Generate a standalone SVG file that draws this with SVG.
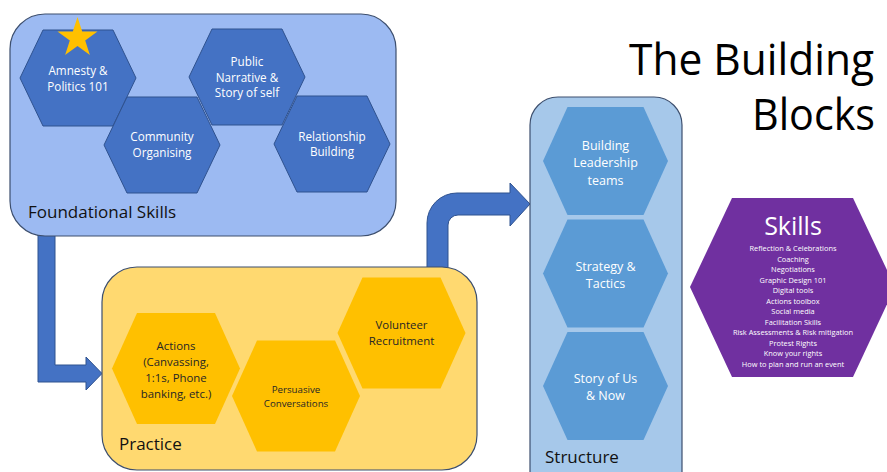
<svg xmlns="http://www.w3.org/2000/svg" xmlns:xlink="http://www.w3.org/1999/xlink" width="887" height="472" viewBox="0 0 887 472">
<style>
  text { font-family: "Open Sans", "Noto Sans", "DejaVu Sans", sans-serif; }
  .box { stroke: #3D4F6E; stroke-width: 1.2; }
  .fbox { fill: #9CBAF2; }
  .pbox { fill: #FFD970; }
  .sbox { fill: #A6C8EA; }
  .hf { fill: #4472C4; stroke: #2F528F; stroke-width: 1; }
  .hp { fill: #FFC000; }
  .hs { fill: #5B9BD5; }
  .arrow { fill: #4472C4; stroke: #2F528F; stroke-width: 1; }
  .wl { fill: #FFFFFF; font-size: 11.7px; text-anchor: middle; }
  .dl { fill: #262626; font-size: 11.4px; text-anchor: middle; }
  .sl { fill: #FFFFFF; font-size: 12.5px; text-anchor: middle; }
  .cap { fill: #111111; font-size: 17px; }
  .sk { fill: #FFFFFF; font-size: 7.4px; text-anchor: middle; }
</style>
<defs>
  <polygon id="hexF" points="-58,0 -35,-48 35,-48 58,0 35,48 -35,48"/>
  <polygon id="hexP" points="-64,0 -39,-55.5 39,-55.5 64,0 39,55.5 -39,55.5"/>
  <polygon id="hexS" points="-62.5,0 -38,-54 38,-54 62.5,0 38,54 -38,54"/>
</defs>
<rect width="887" height="472" fill="#FFFFFF"/>

<g id="connectors">
  <path id="arrow-foundational-practice" class="arrow" d="M38,228 L55,228 L55,365 L86,365 L86,357 L102,373.5 L86,390 L86,382 L38,382 Z"/>
  <path id="arrow-practice-structure" class="arrow" d="M427,280 L427,223 A30,30 0 0 1 457,193 L510,193 L510,183 L530,204 L510,226 L510,215 L458,215 A10,10 0 0 0 448,225 L448,280 Z"/>
</g>

<g id="foundational">
  <rect class="box fbox" x="10" y="14" width="386" height="222" rx="35"/>
  <text class="cap" x="28" y="218">Foundational Skills</text>
</g>
<g id="amnesty">
  <use xlink:href="#hexF" href="#hexF" class="hf" x="78" y="78"/>
  <polygon points="77.5,17 82.2,31.5 97.5,31.5 85.2,40.5 89.9,55 77.5,46 65.1,55 69.8,40.5 57.5,31.5 72.8,31.5" fill="#FFC000"/>
  <text class="wl" x="78" y="75">Amnesty &amp;</text>
  <text class="wl" x="78" y="91">Politics 101</text>
</g>
<g id="community">
  <use xlink:href="#hexF" href="#hexF" class="hf" x="162" y="145"/>
  <text class="wl" x="162" y="141">Community</text>
  <text class="wl" x="162" y="157">Organising</text>
</g>
<g id="public-narrative">
  <use xlink:href="#hexF" href="#hexF" class="hf" x="247" y="77"/>
  <text class="wl" x="247" y="66">Public</text>
  <text class="wl" x="247" y="82">Narrative &amp;</text>
  <text class="wl" x="247" y="97">Story of self</text>
</g>
<g id="relationship">
  <use xlink:href="#hexF" href="#hexF" class="hf" x="332" y="144"/>
  <text class="wl" x="332" y="141">Relationship</text>
  <text class="wl" x="332" y="156">Building</text>
</g>

<g id="practice">
  <rect class="box pbox" x="102" y="267" width="375" height="203" rx="35"/>
  <text class="cap" x="119" y="450">Practice</text>
</g>
<g id="actions">
  <use xlink:href="#hexP" href="#hexP" class="hp" x="176" y="368.5"/>
  <text class="dl" x="176" y="349.5">Actions</text>
  <text class="dl" x="176" y="365.5">(Canvassing,</text>
  <text class="dl" x="176" y="381.5">1:1s, Phone</text>
  <text class="dl" x="176" y="397.5">banking, etc.)</text>
</g>
<g id="persuasive">
  <use xlink:href="#hexP" href="#hexP" class="hp" x="296" y="396"/>
  <text class="dl" style="font-size:9.7px" x="296" y="392.5">Persuasive</text>
  <text class="dl" style="font-size:9.7px" x="296" y="406.5">Conversations</text>
</g>
<g id="volunteer">
  <use xlink:href="#hexP" href="#hexP" class="hp" x="401.5" y="333"/>
  <text class="dl" x="401.5" y="329">Volunteer</text>
  <text class="dl" x="401.5" y="345">Recruitment</text>
</g>

<g id="structure">
  <rect class="box sbox" x="530" y="97" width="152" height="410" rx="28"/>
  <text class="cap" x="545" y="463">Structure</text>
</g>
<g id="leadership">
  <use xlink:href="#hexS" href="#hexS" class="hs" x="605.5" y="161"/>
  <text class="sl" x="605.5" y="149.5">Building</text>
  <text class="sl" x="605.5" y="167">Leadership</text>
  <text class="sl" x="605.5" y="184.5">teams</text>
</g>
<g id="strategy">
  <use xlink:href="#hexS" href="#hexS" class="hs" x="605.5" y="273.5"/>
  <text class="sl" x="605.5" y="270.5">Strategy &amp;</text>
  <text class="sl" x="605.5" y="287.5">Tactics</text>
</g>
<g id="story-of-us">
  <use xlink:href="#hexS" href="#hexS" class="hs" x="605.5" y="386"/>
  <text class="sl" x="605.5" y="382.5">Story of Us</text>
  <text class="sl" x="605.5" y="400">&amp; Now</text>
</g>

<g id="skills">
  <polygon points="690,287 732,198 853,198 895,287 853,377 732,377" fill="#7030A0"/>
  <text x="793" y="235" fill="#FFFFFF" font-size="25" text-anchor="middle">Skills</text>
  <text class="sk" x="793" y="251.3">Reflection &amp; Celebrations</text>
  <text class="sk" x="793" y="261.8">Coaching</text>
  <text class="sk" x="793" y="272.3">Negotiations</text>
  <text class="sk" x="793" y="282.8">Graphic Design 101</text>
  <text class="sk" x="793" y="293.3">Digital tools</text>
  <text class="sk" x="793" y="303.8">Actions toolbox</text>
  <text class="sk" x="793" y="314.3">Social media</text>
  <text class="sk" x="793" y="324.8">Facilitation Skills</text>
  <text class="sk" x="793" y="335.3">Risk Assessments &amp; Risk mitigation</text>
  <text class="sk" x="793" y="345.8">Protest Rights</text>
  <text class="sk" x="793" y="356.3">Know your rights</text>
  <text class="sk" x="793" y="366.8">How to plan and run an event</text>
</g>

<g id="title">
  <text x="874" y="75" fill="#000000" font-size="43" text-anchor="end" textLength="245" lengthAdjust="spacingAndGlyphs">The Building</text>
  <text x="875" y="130" fill="#000000" font-size="43" text-anchor="end" textLength="123" lengthAdjust="spacingAndGlyphs">Blocks</text>
</g>
</svg>
